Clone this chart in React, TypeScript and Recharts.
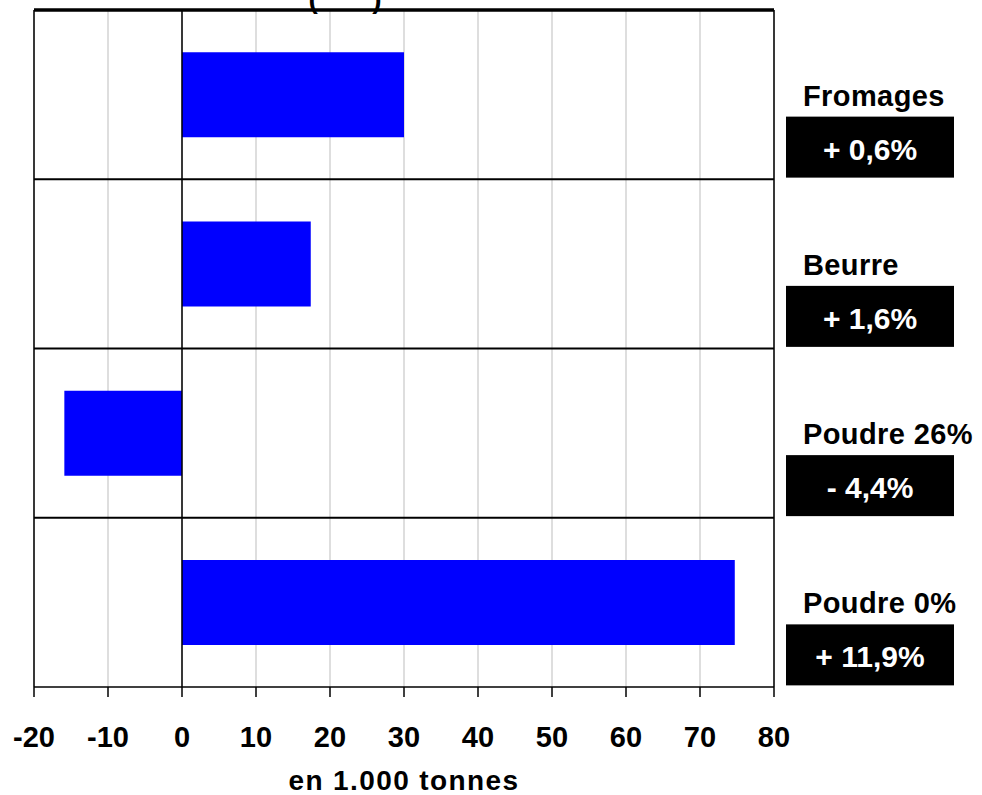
import React from "react";
import {BarChart, Bar, XAxis, YAxis, CartesianGrid, ReferenceLine, Label} from "recharts";

const products = ["Fromages", "Beurre", "Poudre 26%", "Poudre 0%"]
const volumes = [30, 17.4, -15.9, 74.7]
const changes = ["+ 0,6%", "+ 1,6%", "- 4,4%", "+ 11,9%"]
const xTicks = [-20, -10, 0, 10, 20, 30, 40, 50, 60, 70, 80]

const data = products.map((p, i) => ({
    name: p,
    volume: volumes[i],
}))

const FONT = "'Liberation Sans', Arial, sans-serif"

const RightTick = (props: any) => {
    const {x, y, payload} = props
    const i = products.indexOf(payload.value)
    return <g>
        <text x={x + 29} y={y + 11} fontFamily={FONT} fontWeight="bold" fontSize={29}
              letterSpacing={0.4} fill="#000">{payload.value}</text>
        <rect x={x + 12} y={y + 22} width={168} height={61} fill="#000"/>
        <text x={x + 96} y={y + 65} textAnchor="middle" fontFamily={FONT} fontWeight="bold"
              fontSize={30} fill="#fff">{changes[i]}</text>
    </g>
}

export default function App() {
    return <div style={{position: "absolute", left: 0, top: 0, width: 982, height: 795, background: "#fff"}}>
        <div style={{
            position: "absolute", left: 0, top: -17, width: 690, textAlign: "center",
            fontFamily: FONT, fontWeight: "bold", fontSize: 28, whiteSpace: "pre"
        }}>{"(       )"}</div>
        <BarChart
            width={982}
            height={795}
            data={data}
            layout="vertical"
            barCategoryGap="25%"
            margin={{top: 10, right: 0, left: 34, bottom: 0}}
        >
            <CartesianGrid yAxisId="left" horizontal={false} stroke="#c8c8c8" strokeWidth={1.2}/>
            <XAxis type="number" domain={[-20, 80]} ticks={xTicks} interval={0}
                   height={108} tickSize={10} tickMargin={29}
                   axisLine={{stroke: "#000", strokeWidth: 1.5}}
                   tickLine={{stroke: "#000", strokeWidth: 1.5}}
                   tick={{fill: "#000", fontFamily: FONT, fontWeight: "bold", fontSize: 29}}>
                <Label value="en 1.000 tonnes" position="insideBottom" offset={5}
                       fill="#000" fontFamily={FONT} fontWeight="bold" fontSize={28}
                       letterSpacing={1.4}/>
            </XAxis>
            <YAxis yAxisId="left" type="category" dataKey="name" hide/>
            <YAxis yAxisId="right" type="category" dataKey="name" orientation="right"
                   width={208} axisLine={false} tickLine={false} tickSize={0} tickMargin={0}
                   tick={<RightTick/>} interval={0}/>
            <Bar yAxisId="left" dataKey="volume" fill="#0000ff" isAnimationActive={false}/>
            {products.map((p, i) =>
                <ReferenceLine key={p} yAxisId="left" y={p} position="start" stroke="#000"
                               strokeWidth={i === 0 ? 3.5 : 2}/>)}
            <ReferenceLine yAxisId="left" x={0} stroke="#000" strokeWidth={1.5}/>
            <ReferenceLine yAxisId="left" x={-20} stroke="#000" strokeWidth={1.5}/>
            <ReferenceLine yAxisId="left" x={80} stroke="#000" strokeWidth={1.5}/>
        </BarChart>
    </div>
}
